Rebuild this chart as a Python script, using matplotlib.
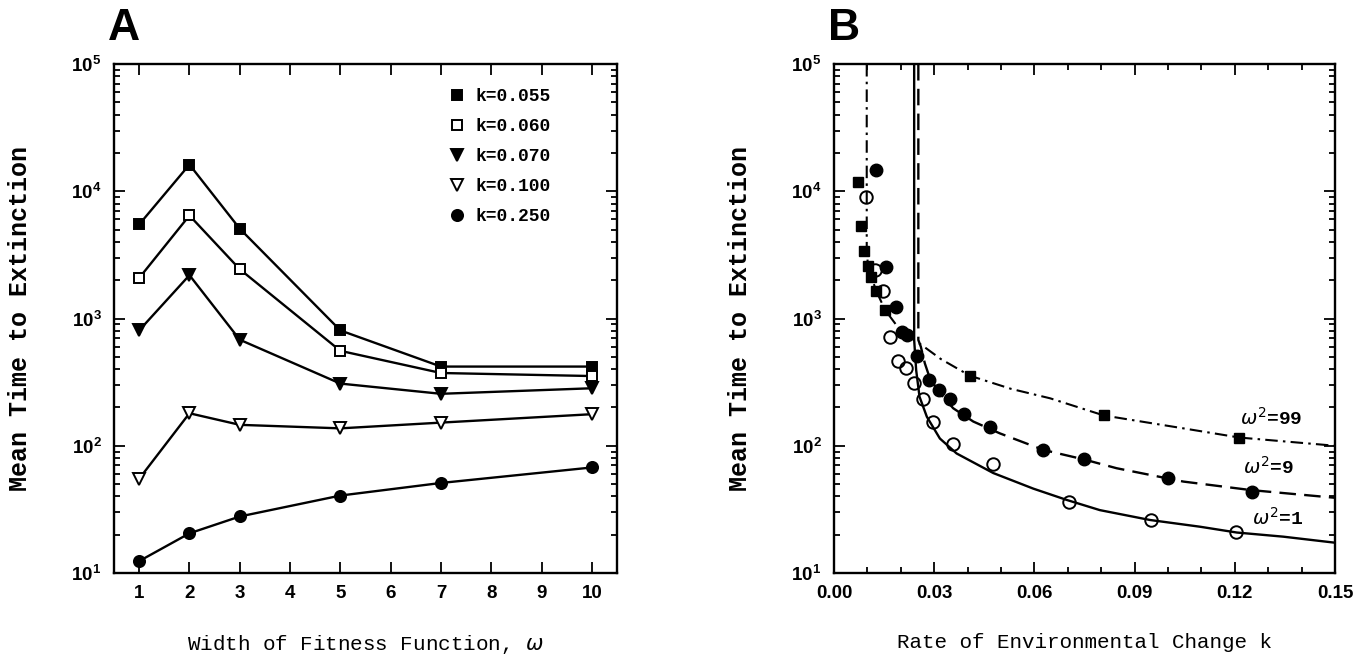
import numpy as np
import matplotlib
matplotlib.use('Agg')
import matplotlib.pyplot as plt
from matplotlib.ticker import LogLocator, MultipleLocator, FixedLocator, NullFormatter, FormatStrFormatter

plt.rcParams['font.family'] = 'Liberation Sans'
plt.rcParams['font.size'] = 12

# ---- panel A: time to extinction vs width of fitness function
omega = [1, 2, 3, 5, 7, 10]
t_k055 = [5480, 16200, 5080, 806, 419, 419]
t_k060 = [2080, 6450, 2440, 557, 373, 353]
t_k070 = [806, 2190, 681, 308, 256, 283]
t_k100 = [55, 180, 146, 137, 152, 177]
t_k250 = [12.4, 20.5, 27.8, 40.6, 51, 67.5]
k_labels = ['k=0.055', 'k=0.060', 'k=0.070', 'k=0.100', 'k=0.250']

# ---- panel B: time to extinction vs rate of change k
# simulation points
sq_k = [0.0071, 0.0081, 0.0091, 0.0101, 0.0111, 0.0126, 0.0153, 0.0407, 0.0808, 0.1214]
sq_t = [11750, 5330, 3370, 2600, 2130, 1655, 1167, 353, 173, 116]
fc_k = [0.0126, 0.0155, 0.0186, 0.0203, 0.0218, 0.0248, 0.0284, 0.0315, 0.0347,
        0.0389, 0.0467, 0.0627, 0.0749, 0.1001, 0.1252]
fc_t = [14700, 2520, 1240, 783, 741, 507, 327, 274, 233, 177, 141, 92.7, 78, 55.5, 43]
oc_k = [0.0096, 0.0123, 0.0146, 0.0168, 0.0191, 0.0216, 0.0240, 0.0266, 0.0297,
        0.0357, 0.0475, 0.0704, 0.0949, 0.1204]
oc_t = [8950, 2400, 1655, 711, 463, 406, 310, 233, 155, 104, 72, 36, 26.1, 20.9]

# theory curves
w1_k = [0.0240, 0.0240, 0.0246, 0.0256, 0.0278, 0.0317, 0.0367, 0.0477, 0.0597,
        0.0697, 0.0796, 0.0946, 0.1096, 0.1206, 0.1345, 0.15]
w1_t = [1e5, 678, 393, 243, 169, 114, 87, 61, 46, 37.5, 31.2, 26.1, 23.1, 20.8, 19.3, 17.3]
w9_k = [0.02525, 0.02525, 0.0260, 0.0272, 0.0287, 0.0317, 0.0357, 0.0417, 0.0497,
        0.0627, 0.0749, 0.0846, 0.1046, 0.1246, 0.15]
w9_t = [1e5, 678, 600, 444, 339, 258, 197, 155, 125, 92.7, 78, 66.6, 52.3, 44.9, 39]
w99_k = [0.0098, 0.0098, 0.0101, 0.0112, 0.0126, 0.0153, 0.0185, 0.0220, 0.0262,
         0.0320, 0.0407, 0.0530, 0.0647, 0.0808, 0.1046, 0.1214, 0.15]
w99_t = [1e5, 3660, 2700, 2130, 1655, 1167, 900, 730, 620, 480, 355, 280, 236,
         173, 137, 116, 100]

mono = 'Liberation Mono'

fig = plt.figure(figsize=(13.68, 6.64), dpi=100)
axA = fig.add_axes([114/1368, 91/664, 503/1368, 509/664])
axB = fig.add_axes([834/1368, 91/664, 501/1368, 509/664])

def style_log(ax):
    ax.set_yscale('log')
    ax.set_ylim(10, 1e5)
    ax.yaxis.set_major_locator(LogLocator(base=10, numticks=10))
    ax.yaxis.set_minor_locator(LogLocator(base=10, subs=np.arange(2, 10), numticks=20))
    ax.yaxis.set_minor_formatter(NullFormatter())
    ax.tick_params(which='both', direction='in', top=True, right=True, width=1.3)
    ax.tick_params(which='major', length=8, labelsize=13.5, pad=9)
    ax.tick_params(which='minor', length=4)
    for lab in ax.get_xticklabels() + ax.get_yticklabels():
        lab.set_fontweight('bold')
    for s in ax.spines.values():
        s.set_linewidth(1.7)
    ax.set_ylabel('Mean Time to Extinction', family=mono, fontsize=18,
                  weight='bold', labelpad=28)

# panel A
series = [t_k055, t_k060, t_k070, t_k100, t_k250]
marks = ['s', 's', 'v', 'v', 'o']
fills = ['black', 'white', 'black', 'white', 'black']
sizes = [7, 7, 8, 8, 8]
for ys, m, fc, ms, lab in zip(series, marks, fills, sizes, k_labels):
    axA.plot(omega, ys, color='black', lw=1.7, zorder=2)
    axA.plot(omega, ys, ls='none', marker=m, ms=ms, mfc=fc, mec='black', mew=1.4,
             label=lab, zorder=3)
axA.set_xlim(0.5, 10.5)
axA.xaxis.set_major_locator(FixedLocator(range(1, 11)))
style_log(axA)
axA.set_xlabel('Width of Fitness Function, $\\omega$', family=mono, fontsize=15,
               labelpad=22)
leg = axA.legend(loc='upper left', bbox_to_anchor=(0.632, 0.985), frameon=False,
                 handlelength=1.0, handletextpad=0.5, labelspacing=0.72,
                 prop={'family': mono, 'weight': 'bold', 'size': 13})
axA.text(-0.012, 1.03, 'A', transform=axA.transAxes, fontsize=32, weight='bold',
         ha='left', va='bottom')

# panel B
axB.plot(w1_k, w1_t, color='black', lw=1.7, ls='-')
axB.plot(w9_k, w9_t, color='black', lw=1.7, ls=(0, (7, 3.5)))
axB.plot(w99_k, w99_t, color='black', lw=1.5, ls=(0, (6, 2.5, 1.2, 2.5)))
axB.plot(sq_k, sq_t, ls='none', marker='s', ms=7, mfc='black', mec='black', zorder=3)
axB.plot(fc_k, fc_t, ls='none', marker='o', ms=9, mfc='black', mec='black', zorder=3)
axB.plot(oc_k, oc_t, ls='none', marker='o', ms=9, mfc='none', mec='black', mew=1.4, zorder=3)
axB.set_xlim(0, 0.15)
axB.xaxis.set_major_locator(MultipleLocator(0.03))
axB.xaxis.set_minor_locator(MultipleLocator(0.01))
axB.xaxis.set_major_formatter(FormatStrFormatter('%.2f'))
style_log(axB)
axB.set_xlabel('Rate of Environmental Change k', family=mono, fontsize=15, labelpad=22)
axB.text(0.1216, 145, '$\\omega^{2}$=99', family=mono, weight='bold', fontsize=14)
axB.text(0.1224, 60, '$\\omega^{2}$=9', family=mono, weight='bold', fontsize=14)
axB.text(0.1250, 23.8, '$\\omega^{2}$=1', family=mono, weight='bold', fontsize=14)
axB.text(-0.012, 1.03, 'B', transform=axB.transAxes, fontsize=32, weight='bold',
         ha='left', va='bottom')

fig.savefig('out.png', dpi=100)
